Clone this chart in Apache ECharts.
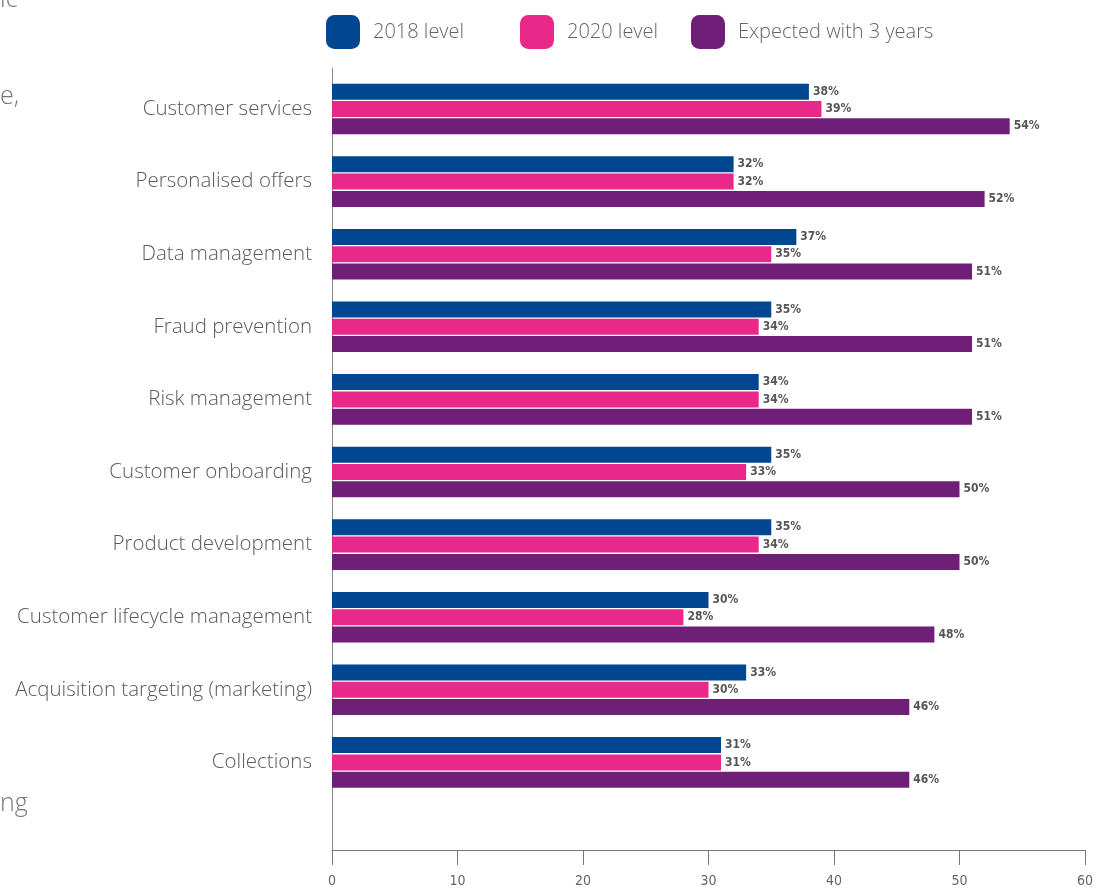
<!DOCTYPE html>
<html><head><meta charset="utf-8">
<script src="https://cdn.jsdelivr.net/npm/echarts@6/dist/echarts.min.js"></script>
<style>html,body{margin:0;padding:0;background:#fff}#c{width:1097px;height:888px}</style>
</head><body><div id="c"></div>
<script>
const categories = ["Customer services","Personalised offers","Data management","Fraud prevention","Risk management","Customer onboarding","Product development","Customer lifecycle management","Acquisition targeting (marketing)","Collections"];
const level2018 = [38,32,37,35,34,35,35,30,33,31];
const level2020 = [39,32,35,34,34,33,34,28,30,31];
const expected3y = [54,52,51,51,51,50,50,48,46,46];
const seriesNames = ["2018 level","2020 level","Expected with 3 years"];
const xTicks = [0,10,20,30,40,50,60];
const colors = ["#004690","#e8298a","#6f1f78"];

const chart = echarts.init(document.getElementById('c'), null, {renderer:'canvas'});
const labelFont = "'Liberation Sans Narrow','DejaVu Sans Condensed','Roboto',sans-serif";
const mainFont = "'Open Sans','Noto Sans',sans-serif";
const barLabel = {show:true, position:'right', distance:4, formatter:'{c}%', fontSize:12, fontWeight:'bold', color:'#555', fontFamily:labelFont};
function mkLegend(name, left){
  return {data:[name], left:left, top:15, padding:0, itemWidth:34, itemHeight:34, icon:'roundRect', selectedMode:false,
    textStyle:{fontSize:20, color:'#666', fontFamily:mainFont, fontWeight:300, padding:[3,0,0,8]}};
}
chart.setOption({
  animation:false,
  legend:[mkLegend(seriesNames[0],326), mkLegend(seriesNames[1],520), mkLegend(seriesNames[2],691)],
  grid:[
    {left:332, right:12, top:72.7, height:726, containLabel:false},
    {left:332, right:12, top:68, bottom:37, containLabel:false}
  ],
  xAxis:[
    {gridIndex:0, type:'value', min:0, max:60, show:false},
    {gridIndex:1, type:'value', min:xTicks[0], max:xTicks[xTicks.length-1], interval:10,
      axisLine:{show:true, lineStyle:{color:'#777', width:1}},
      axisTick:{show:true, length:15, lineStyle:{color:'#777'}},
      splitLine:{show:false},
      axisLabel:{margin:24, fontSize:14, color:'#666', fontFamily:labelFont}}
  ],
  yAxis:[
    {gridIndex:0, type:'category', data:categories, inverse:true,
      axisLine:{show:false}, axisTick:{show:false},
      axisLabel:{margin:20, fontSize:20.5, color:'#5a5a5a', fontFamily:mainFont, fontWeight:300}},
    {gridIndex:1, type:'value', min:0, max:1, axisLine:{show:true, lineStyle:{color:'#888', width:1}},
      axisTick:{show:false}, axisLabel:{show:false}, splitLine:{show:false}}
  ],
  graphic:[
    {type:'text', left:0, top:-13, style:{text:'ic', fontSize:25, fill:'#777', fontFamily:mainFont, fontWeight:300}},
    {type:'text', left:0, top:84, style:{text:'e,', fontSize:25, fill:'#777', fontFamily:mainFont, fontWeight:300}},
    {type:'text', left:0, top:791, style:{text:'ng', fontSize:25, fill:'#777', fontFamily:mainFont, fontWeight:300}}
  ],
  series:[
    {name:seriesNames[0], type:'bar', xAxisIndex:0, yAxisIndex:0, data:level2018, barWidth:16, barGap:'8%', itemStyle:{color:colors[0]}, label:barLabel},
    {name:seriesNames[1], type:'bar', xAxisIndex:0, yAxisIndex:0, data:level2020, barWidth:16, barGap:'8%', itemStyle:{color:colors[1]}, label:barLabel},
    {name:seriesNames[2], type:'bar', xAxisIndex:0, yAxisIndex:0, data:expected3y, barWidth:16, barGap:'8%', itemStyle:{color:colors[2]}, label:barLabel}
  ]
});
</script></body></html>
